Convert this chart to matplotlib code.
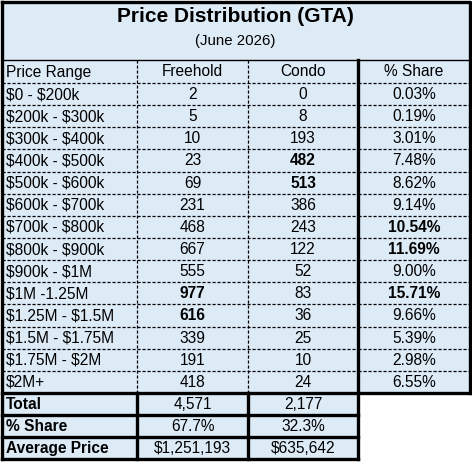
import matplotlib.pyplot as plt

plt.rcParams['font.family'] = ['Liberation Sans', 'DejaVu Sans']
plt.rcParams['text.parse_math'] = False

title = "Price Distribution (GTA)"
subtitle = "(June 2026)"
headers = ["Price Range", "Freehold", "Condo", "% Share"]
ranges = ["$0 - $200k", "$200k - $300k", "$300k - $400k", "$400k - $500k",
          "$500k - $600k", "$600k - $700k", "$700k - $800k", "$800k - $900k",
          "$900k - $1M", "$1M -1.25M", "$1.25M - $1.5M", "$1.5M - $1.75M",
          "$1.75M - $2M", "$2M+"]
freehold = ["2", "5", "10", "23", "69", "231", "468", "667", "555", "977",
            "616", "339", "191", "418"]
condo = ["0", "8", "193", "482", "513", "386", "243", "122", "52", "83",
         "36", "25", "10", "24"]
share = ["0.03%", "0.19%", "3.01%", "7.48%", "8.62%", "9.14%", "10.54%",
         "11.69%", "9.00%", "15.71%", "9.66%", "5.39%", "2.98%", "6.55%"]
bold_freehold = {"977", "616"}
bold_condo = {"482", "513"}
bold_share = {"10.54%", "11.69%", "15.71%"}
summary_labels = ["Total", "% Share", "Average Price"]
summary_freehold = ["4,571", "67.7%", "$1,251,193"]
summary_condo = ["2,177", "32.3%", "$635,642"]

W, H = 472, 462
bg = "#DDEBF7"
fig = plt.figure(figsize=(W / 100, H / 100), dpi=100)
ax = fig.add_axes([0, 0, 1, 1])
ax.set_xlim(0, W)
ax.set_ylim(H, 0)
ax.axis("off")

# column edges and row edges in pixels
xs = [2, 137, 248, 358, 470]
y_title = 1.5
y_head = 60
y_data = 83
rh = 22.14
y_end = y_data + rh * len(ranges)
sum_rows = [y_end + rh * i for i in range(len(summary_labels) + 1)]

# backgrounds
ax.add_patch(plt.Rectangle((xs[0], y_title), xs[4] - xs[0], y_end - y_title,
                           facecolor=bg, edgecolor="none"))
ax.add_patch(plt.Rectangle((xs[0], y_end), xs[3] - xs[0], sum_rows[-1] - y_end,
                           facecolor=bg, edgecolor="none"))

fs = 11.2
ax.text(235, 17, title, ha="center", va="center", fontsize=15, fontweight="bold")
ax.text(235, 41, subtitle, ha="center", va="center", fontsize=10.8)

# header
yc = (y_head + y_data) / 2 + 0.5
ax.text(xs[0] + 4, yc, headers[0], ha="left", va="center", fontsize=fs)
for j in range(1, 4):
    ax.text((xs[j] + xs[j + 1]) / 2, yc, headers[j], ha="center", va="center", fontsize=fs)

for i in range(len(ranges)):
    yc = y_data + rh * (i + 0.5) + 0.5
    ax.text(xs[0] + 4, yc, ranges[i], ha="left", va="center", fontsize=fs)
    ax.text((xs[1] + xs[2]) / 2, yc, freehold[i], ha="center", va="center", fontsize=fs,
            fontweight="bold" if freehold[i] in bold_freehold else "normal")
    ax.text((xs[2] + xs[3]) / 2, yc, condo[i], ha="center", va="center", fontsize=fs,
            fontweight="bold" if condo[i] in bold_condo else "normal")
    ax.text((xs[3] + xs[4]) / 2, yc, share[i], ha="center", va="center", fontsize=fs,
            fontweight="bold" if share[i] in bold_share else "normal")

for i in range(len(summary_labels)):
    yc = sum_rows[i] + rh / 2 + 0.5
    ax.text(xs[0] + 4, yc, summary_labels[i], ha="left", va="center", fontsize=fs,
            fontweight="bold")
    ax.text((xs[1] + xs[2]) / 2, yc, summary_freehold[i], ha="center", va="center", fontsize=fs)
    ax.text((xs[2] + xs[3]) / 2, yc, summary_condo[i], ha="center", va="center", fontsize=fs)

# dashed inner lines
dash = dict(color="black", lw=0.9, ls=(0, (2.5, 1.5)))
for k in range(len(ranges)):
    y = y_data + rh * k
    ax.plot([xs[0], xs[3]], [y, y], **dash)
    ax.plot([xs[3], xs[4]], [y, y], **dash)
for j in (1, 2):
    ax.plot([xs[j], xs[j]], [y_head, y_end], **dash)

# solid lines
ax.plot([xs[0], xs[4]], [y_head, y_head], color="black", lw=1.0)
thick = dict(color="black", lw=2.4, solid_capstyle="projecting")
ax.plot([xs[3], xs[3]], [y_head, sum_rows[-1]], **thick)
ax.plot([xs[0], xs[4], xs[4]], [y_title, y_title, y_end], **thick)
ax.plot([xs[0], xs[0]], [y_title, sum_rows[-1]], **thick)
ax.plot([xs[0], xs[4]], [y_end, y_end], **thick)
for y in sum_rows[1:]:
    ax.plot([xs[0], xs[3]], [y, y], **thick)
ax.plot([xs[1], xs[1]], [y_end, sum_rows[-1]], **thick)
ax.plot([xs[2], xs[2]], [y_end, sum_rows[-1]], **thick)

fig.savefig("out.png", dpi=100, facecolor="white")
